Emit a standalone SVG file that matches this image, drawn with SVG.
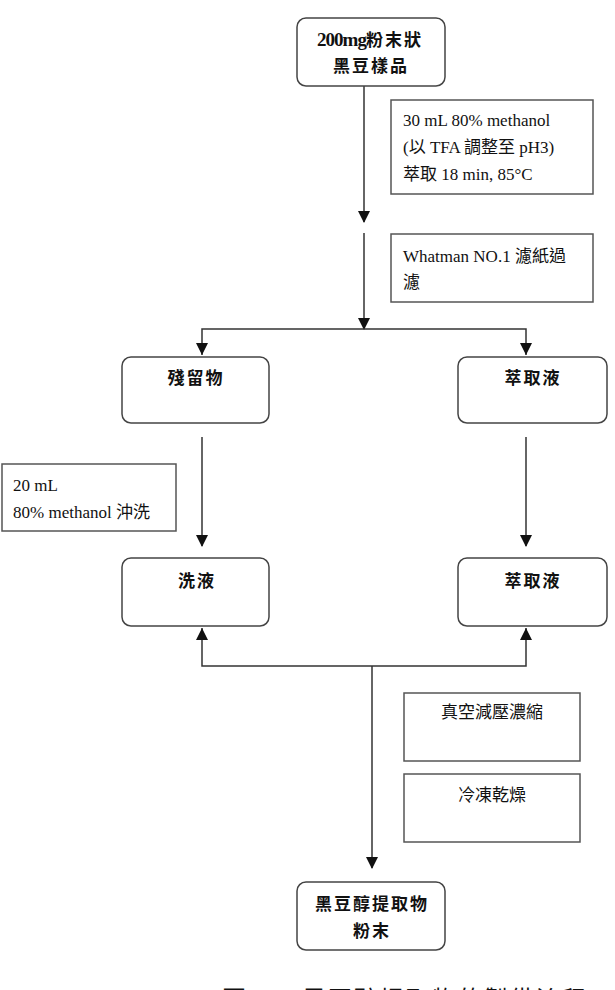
<svg xmlns="http://www.w3.org/2000/svg" width="615" height="990" viewBox="0 0 615 990">
<style>
.node{fill:#fff;stroke:#444;stroke-width:1.5}
.note{fill:#fff;stroke:#555;stroke-width:1.5}
.t{font-family:"Noto Sans CJK TC","Noto Sans CJK SC",sans-serif;font-weight:bold;font-size:17px;letter-spacing:2px;fill:#111;text-anchor:middle}
.n{font-family:"Liberation Serif","Noto Sans CJK TC",serif;font-size:17px;fill:#111;letter-spacing:0px}
.c{font-family:"Noto Sans CJK TC","Noto Sans CJK SC",sans-serif;font-size:17px;fill:#111;text-anchor:middle}
.ln{fill:none;stroke:#333;stroke-width:1.5}
</style>
<defs>
<marker id="ah" markerWidth="12" markerHeight="12" refX="11" refY="6" orient="auto" markerUnits="userSpaceOnUse">
<path d="M0,0 L12,6 L0,12 Z" fill="#111"/>
</marker>
</defs>
<rect width="615" height="990" fill="#fff"/>
<g id="connectors">
<line class="ln" x1="364" y1="86" x2="364" y2="222" marker-end="url(#ah)"/>
<line class="ln" x1="364" y1="233" x2="364" y2="329" marker-end="url(#ah)"/>
<polyline class="ln" points="202,355 202,329 526,329 526,355"/>
<path d="M196,343 L202,355 L208,343 Z M520,343 L526,355 L532,343 Z" fill="#111"/>
<line class="ln" x1="202" y1="437" x2="202" y2="546" marker-end="url(#ah)"/>
<line class="ln" x1="526" y1="437" x2="526" y2="546" marker-end="url(#ah)"/>
<polyline class="ln" points="202,628 202,666 526,666 526,628"/>
<path d="M196,640 L202,628 L208,640 Z M520,640 L526,628 L532,640 Z" fill="#111"/>
<line class="ln" x1="372" y1="666" x2="372" y2="868" marker-end="url(#ah)"/>
</g>
<g id="start">
<rect class="node" x="297" y="18" width="148" height="68" rx="9"/>
<text class="t" x="370" y="46" font-size="18" letter-spacing="2"><tspan font-family="Liberation Serif" letter-spacing="-1" font-size="19">200mg</tspan>粉末狀</text>
<text class="t" x="371" y="72">黑豆樣品</text>
</g>
<g id="note-extract">
<rect class="note" x="391" y="100" width="202" height="94"/>
<text class="n" x="403" y="126">30 mL 80% methanol</text>
<text class="n" x="403" y="153">(以 TFA 調整至 pH3)</text>
<text class="n" x="403" y="180">萃取 18 min, 85°C</text>
</g>
<g id="note-filter">
<rect class="note" x="391" y="234" width="202" height="68"/>
<text class="n" x="403" y="262">Whatman NO.1 濾紙過</text>
<text class="n" x="403" y="288">濾</text>
</g>
<g id="residue">
<rect class="node" x="122" y="357" width="147" height="66" rx="9"/>
<text class="t" x="196" y="384">殘留物</text>
</g>
<g id="extract1">
<rect class="node" x="458" y="357" width="149" height="66" rx="9"/>
<text class="t" x="533" y="384">萃取液</text>
</g>
<g id="note-wash">
<rect class="note" x="2" y="464" width="174" height="67"/>
<text class="n" x="13" y="491">20 mL</text>
<text class="n" x="13" y="518">80% methanol 沖洗</text>
</g>
<g id="washliquid">
<rect class="node" x="122" y="558" width="147" height="68" rx="9"/>
<text class="t" x="197" y="587">洗液</text>
</g>
<g id="extract2">
<rect class="node" x="458" y="558" width="149" height="68" rx="9"/>
<text class="t" x="533" y="587">萃取液</text>
</g>
<g id="note-vacuum">
<rect class="note" x="404" y="693" width="176" height="68"/>
<text class="c" x="492" y="718">真空減壓濃縮</text>
</g>
<g id="note-freeze">
<rect class="note" x="404" y="774" width="176" height="68"/>
<text class="c" x="492" y="801">冷凍乾燥</text>
</g>
<g id="final">
<rect class="node" x="297" y="882" width="148" height="68" rx="9"/>
<text class="t" x="372" y="910">黑豆醇提取物</text>
<text class="t" x="372" y="937">粉末</text>
</g>
<text x="222" y="1008" font-family="Noto Sans CJK TC, sans-serif" font-size="24" fill="#111" letter-spacing="2">圖 3.3 黑豆醇提取物的製備流程</text>
</svg>
